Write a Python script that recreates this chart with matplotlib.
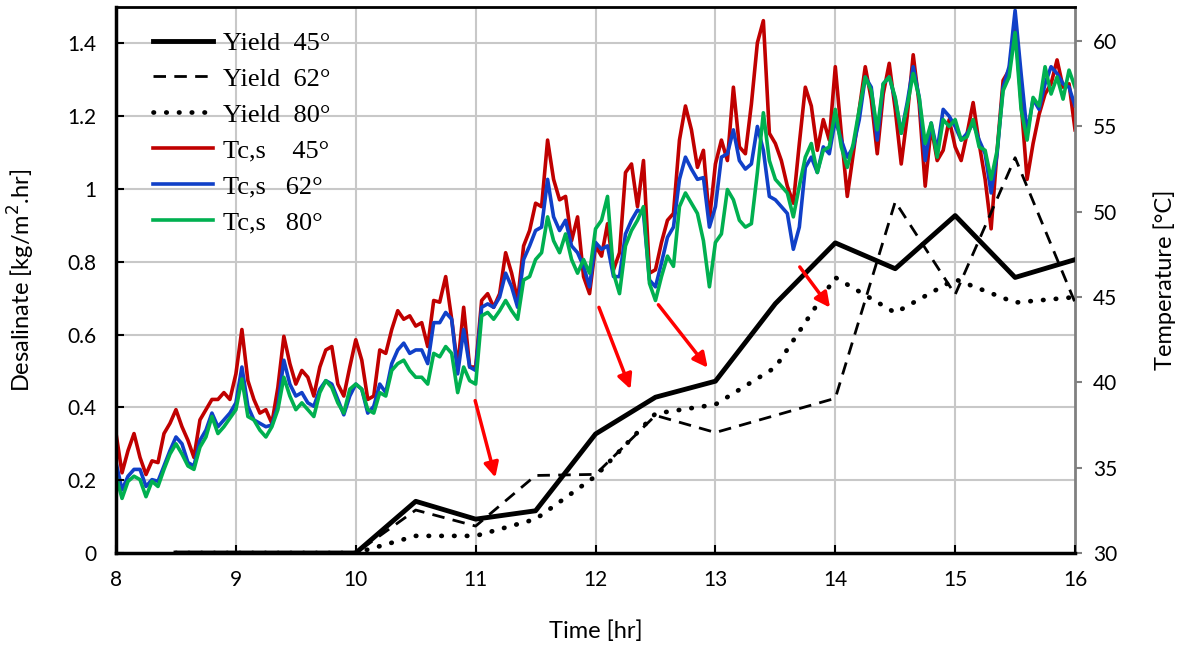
import numpy as np
import matplotlib
matplotlib.use("Agg")
import matplotlib.pyplot as plt
from matplotlib.ticker import FormatStrFormatter

plt.rcParams['font.family'] = ['Lato', 'DejaVu Sans']

# yield data (left axis), half-hourly
yield_t = [8.5, 9, 9.5, 10, 10.5, 11, 11.5, 12, 12.5, 13, 13.5, 14, 14.5, 15, 15.5, 16]
yield_45 = [0, 0, 0, 0, 0.142, 0.093, 0.116, 0.327, 0.428, 0.472, 0.685, 0.852, 0.781, 0.927, 0.757, 0.806]
yield_62 = [0, 0, 0, 0, 0.118, 0.074, 0.213, 0.216, 0.378, 0.331, 0.378, 0.425, 0.965, 0.710, 1.086, 0.688]
yield_80 = [0, 0, 0, 0, 0.047, 0.047, 0.093, 0.211, 0.383, 0.408, 0.510, 0.757, 0.660, 0.752, 0.688, 0.703]

# cover temperature Tc,s (right axis), every 3 min from 8:00 to 16:00
temp_t = np.linspace(8, 16, 161)
tcs_45 = [37.0, 34.7, 36.0, 37.0, 35.6, 34.6, 35.4, 35.3, 37.0, 37.6,
          38.4, 37.4, 36.6, 35.6, 37.8, 38.4, 39.0, 39.0, 39.4, 39.0,
          40.5, 43.1, 40.1, 39.0, 38.2, 38.4, 37.6, 39.7, 42.7, 41.1,
          39.9, 40.7, 40.3, 39.2, 40.9, 41.9, 42.1, 39.9, 39.2, 40.9,
          42.5, 41.3, 39.0, 39.2, 41.9, 41.7, 43.1, 44.2, 43.7, 43.9,
          43.3, 43.5, 42.1, 44.8, 44.7, 46.2, 43.7, 40.9, 44.4, 40.9,
          40.9, 44.8, 45.2, 44.4, 45.2, 47.6, 46.4, 44.8, 48.0, 48.9,
          50.5, 50.3, 54.2, 51.9, 50.7, 50.9, 48.3, 49.7, 46.2, 45.2,
          48.0, 47.4, 49.3, 46.6, 47.6, 52.3, 52.8, 50.3, 53.0, 46.4,
          46.6, 48.2, 49.5, 49.9, 54.2, 56.2, 54.8, 52.6, 53.6, 49.5,
          52.8, 54.2, 53.0, 57.3, 53.8, 53.4, 56.3, 59.9, 61.2, 54.6,
          54.0, 53.0, 51.5, 50.5, 54.0, 57.3, 56.2, 53.6, 55.4, 54.2,
          58.5, 54.6, 50.9, 53.4, 56.0, 58.5, 56.6, 53.4, 56.9, 58.7,
          56.0, 52.8, 55.6, 59.2, 56.3, 51.5, 55.0, 53.0, 53.6, 55.4,
          53.8, 53.0, 54.6, 56.4, 54.0, 51.9, 49.0, 53.6, 57.7, 58.3,
          61.0, 56.4, 51.9, 54.0, 55.7, 56.9, 57.5, 58.9, 57.3, 57.5,
          54.8]
tcs_62 = [35.3, 33.7, 34.5, 34.9, 34.9, 33.9, 34.3, 34.2, 35.1, 36.0,
          36.8, 36.4, 35.3, 35.1, 36.6, 37.2, 38.2, 37.4, 37.8, 38.2,
          38.8, 40.9, 38.6, 37.8, 37.6, 37.4, 37.5, 38.6, 41.3, 39.9,
          39.2, 39.4, 38.8, 38.6, 39.6, 40.1, 39.9, 39.0, 38.1, 39.2,
          39.9, 39.6, 38.2, 38.6, 39.9, 39.4, 41.1, 41.9, 42.3, 41.7,
          41.9, 41.9, 41.1, 43.5, 43.5, 44.1, 43.7, 40.5, 43.1, 40.9,
          40.7, 44.4, 44.6, 44.4, 45.0, 46.4, 45.6, 44.4, 47.2, 48.0,
          48.9, 49.1, 51.9, 49.7, 48.9, 49.5, 48.0, 47.6, 46.8, 45.6,
          48.2, 47.8, 48.0, 46.2, 46.2, 48.7, 49.5, 50.1, 49.9, 46.0,
          45.6, 47.0, 48.5, 49.1, 51.9, 53.2, 52.5, 51.9, 52.0, 49.1,
          50.3, 53.2, 53.4, 54.8, 53.0, 52.5, 52.8, 55.0, 53.6, 50.9,
          50.7, 50.3, 49.9, 47.8, 49.1, 52.6, 53.2, 52.3, 53.8, 53.4,
          55.4, 54.2, 53.2, 53.8, 55.4, 57.9, 57.3, 54.2, 57.5, 57.9,
          56.6, 54.6, 56.4, 58.5, 56.7, 53.0, 55.2, 53.6, 56.0, 55.6,
          55.0, 54.2, 54.6, 55.2, 54.2, 53.4, 51.1, 53.4, 57.3, 58.5,
          61.8, 58.1, 54.6, 56.6, 56.0, 57.5, 58.5, 58.1, 57.5, 57.3,
          56.2]
tcs_80 = [34.5, 33.2, 34.2, 34.5, 34.3, 33.3, 34.2, 33.9, 34.9, 35.8,
          36.4, 35.8, 35.1, 34.9, 36.2, 36.8, 38.0, 37.0, 37.4, 37.9,
          38.4, 40.2, 38.0, 37.8, 37.2, 36.8, 37.4, 38.4, 40.3, 39.2,
          38.4, 38.8, 38.4, 38.0, 39.4, 40.1, 39.7, 38.8, 38.2, 39.6,
          39.9, 39.6, 38.4, 38.2, 39.4, 39.2, 40.7, 41.1, 41.3, 40.7,
          40.3, 40.3, 39.9, 41.7, 41.5, 42.1, 41.7, 39.4, 40.9, 40.1,
          39.9, 43.9, 44.1, 43.7, 44.2, 44.8, 44.2, 43.7, 46.0, 46.2,
          47.2, 47.6, 49.7, 48.3, 47.6, 48.7, 47.2, 46.4, 47.2, 46.4,
          49.0, 49.5, 50.9, 46.4, 45.2, 48.0, 48.9, 49.5, 50.3, 45.8,
          44.8, 46.2, 47.4, 46.8, 50.3, 51.1, 50.5, 49.9, 48.3, 45.6,
          48.2, 48.7, 51.3, 50.7, 49.5, 49.1, 49.3, 52.3, 55.8, 53.0,
          51.9, 51.5, 51.1, 49.7, 51.5, 53.2, 54.0, 52.3, 53.6, 53.8,
          56.0, 53.8, 52.6, 54.0, 56.0, 57.9, 57.1, 54.8, 57.5, 57.9,
          56.7, 54.6, 56.2, 58.1, 56.7, 54.0, 55.2, 53.2, 55.4, 55.0,
          55.4, 54.2, 54.4, 55.4, 53.8, 53.6, 51.9, 53.6, 57.1, 57.9,
          60.5, 56.0, 54.2, 56.7, 56.2, 58.5, 56.9, 57.9, 56.6, 58.3,
          57.3]

# red arrows (start -> end), left axis units
arrow_start = [(10.99, 0.426), (12.02, 0.682), (12.51, 0.688), (13.69, 0.792)]
arrow_end = [(11.17, 0.200), (12.30, 0.443), (12.95, 0.503), (13.97, 0.668)]

fig = plt.figure(figsize=(11.78, 6.48), dpi=100)
ax = fig.add_axes([0.0985, 0.1466, 0.8141, 0.8426])
ax2 = ax.twinx()

# yields drawn above the temperature curves
ax.set_zorder(2)
ax.patch.set_visible(False)
ax2.set_zorder(1)

l1, = ax.plot(yield_t, yield_45, color='black', lw=3.5, label='Yield  45°')
l2, = ax.plot(yield_t, yield_62, color='black', lw=2, linestyle=(0, (4.5, 3)), label='Yield  62°')
l3, = ax.plot(yield_t, yield_80, color='black', lw=3.4, linestyle=(0, (0.1, 2.6)),
              dash_capstyle='round', label='Yield  80°')

l4, = ax2.plot(temp_t, tcs_45, color='#C00000', lw=2.6, label='Tc,s    45°')
l5, = ax2.plot(temp_t, tcs_62, color='#1040C8', lw=2.6, label='Tc,s   62°')
l6, = ax2.plot(temp_t, tcs_80, color='#00B050', lw=2.6, label='Tc,s   80°')

for s, e in zip(arrow_start, arrow_end):
    ax.annotate('', xy=e, xytext=s,
                arrowprops=dict(arrowstyle='-|>', color='red', lw=2.5, mutation_scale=22))

ax.set_xlim(8, 16)
ax.set_ylim(0, 1.5)
ax2.set_ylim(30, 62)
ax.set_xticks(range(8, 17))
ax.set_yticks(np.arange(0, 1.41, 0.2))
ax.yaxis.set_major_formatter(FormatStrFormatter('%g'))
ax2.set_yticks(range(30, 61, 5))

# gridlines behind the temperature curves
for yv in np.arange(0.2, 1.41, 0.2):
    ax2.axhline(30 + yv / 1.5 * 32, color='#c8c8c8', lw=1.5, zorder=0)
for xv in range(9, 16):
    ax2.axvline(xv, color='#c8c8c8', lw=1.5, zorder=0)

ax.tick_params(axis='x', direction='in', length=6, width=1.5, labelsize=15, pad=12)
ax.tick_params(axis='y', direction='in', length=6, width=1.5, labelsize=15, pad=14)
ax2.tick_params(axis='y', direction='out', length=5, width=1.5, color='#808080', labelsize=15, pad=8)

for sp in ['left', 'bottom']:
    ax.spines[sp].set_linewidth(2.5)
ax.spines['top'].set_linewidth(2)
ax.spines['right'].set_visible(False)
ax2.spines['right'].set_color('#808080')
ax2.spines['right'].set_linewidth(2)
for sp in ['left', 'bottom', 'top']:
    ax2.spines[sp].set_visible(False)

ax.set_xlabel('Time [hr]', fontsize=17, labelpad=22)
ax.set_ylabel('Desalinate [kg/m$^2$.hr]', fontsize=17, labelpad=22)
ax2.set_ylabel('Temperature [°C]', fontsize=17, labelpad=26)

ax.legend(handles=[l1, l2, l3, l4, l5, l6], loc='upper left', frameon=False,
          prop={'family': ['Liberation Serif', 'DejaVu Serif'], 'size': 19},
          handlelength=2.3, handletextpad=0.35, labelspacing=0.47,
          borderaxespad=0.0, borderpad=0.3, bbox_to_anchor=(0.03, 0.97))

fig.savefig('out.png', dpi=100)
